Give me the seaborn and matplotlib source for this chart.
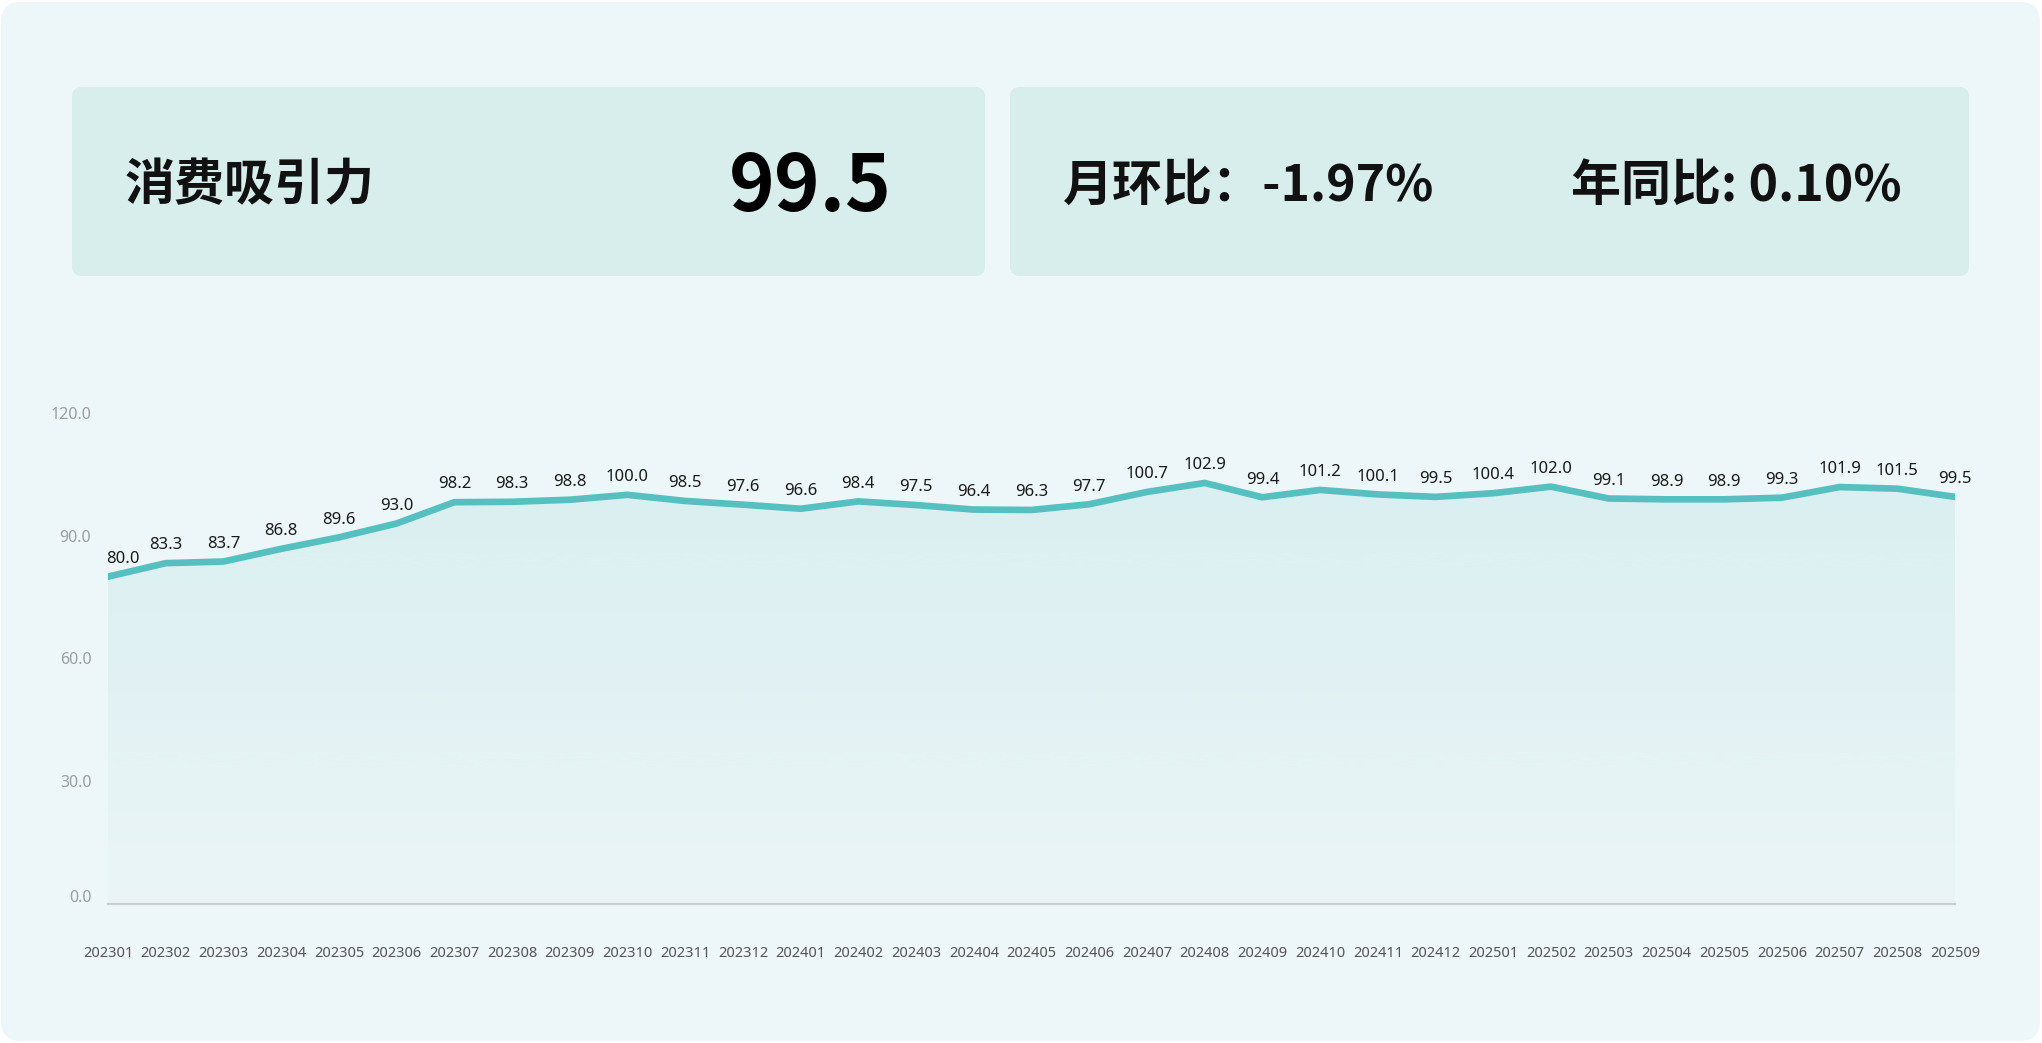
import numpy as np
import pandas as pd
import matplotlib
matplotlib.use("Agg")
import matplotlib.pyplot as plt
import seaborn as sns
from matplotlib.patches import FancyBboxPatch
from matplotlib.transforms import ScaledTranslation

# ---------------- data ----------------
months = ["202301", "202302", "202303", "202304", "202305", "202306", "202307",
          "202308", "202309", "202310", "202311", "202312", "202401", "202402",
          "202403", "202404", "202405", "202406", "202407", "202408", "202409",
          "202410", "202411", "202412", "202501", "202502", "202503", "202504",
          "202505", "202506", "202507", "202508", "202509"]
values = [80.0, 83.3, 83.7, 86.8, 89.6, 93.0, 98.2, 98.3, 98.8, 100.0, 98.5,
          97.6, 96.6, 98.4, 97.5, 96.4, 96.3, 97.7, 100.7, 102.9, 99.4, 101.2,
          100.1, 99.5, 100.4, 102.0, 99.1, 98.9, 98.9, 99.3, 101.9, 101.5, 99.5]
y_ticks = [0.0, 30.0, 60.0, 90.0, 120.0]
title_label = "消费吸引力"
title_value = "99.5"
mom_text = "月环比：-1.97%"
yoy_text = "年同比: 0.10%"

# ---------------- styling ----------------
sns.set_theme(style="white")
plt.rcParams["font.family"] = ["Noto Sans CJK SC", "DejaVu Sans"]

W, H = 2042, 1043
DPI = 100
fig = plt.figure(figsize=(W / DPI, H / DPI), dpi=DPI, facecolor="white")

def px(x, y):
    return x / W, 1 - y / H

# outer panel
outer = FancyBboxPatch((1 / DPI, 2 / DPI), (W - 3) / DPI, (H - 4) / DPI,
                       boxstyle="round,pad=0,rounding_size=0.2",
                       transform=fig.dpi_scale_trans, facecolor="#EDF6F8",
                       edgecolor="none", zorder=-2)
fig.patches.append(outer)

# cards
for (x0, x1) in [(72, 985), (1010, 1969)]:
    card = FancyBboxPatch((x0 / DPI, (H - 276) / DPI), (x1 - x0) / DPI, (276 - 87) / DPI,
                          boxstyle="round,pad=0,rounding_size=0.1",
                          transform=fig.dpi_scale_trans, facecolor="#D8EEEC",
                          edgecolor="none", zorder=-1)
    fig.patches.append(card)

fig.text(*px(125, 186), title_label, fontsize=36, color="#111111",
         ha="left", va="center", fontweight="bold")
fig.text(*px(892, 188), title_value, fontsize=56, color="#000000",
         ha="right", va="center", fontweight="bold")
fig.text(*px(1063, 186), mom_text, fontsize=36, color="#111111",
         ha="left", va="center", fontweight="bold")
fig.text(*px(1571, 186), yoy_text, fontsize=36, color="#111111",
         ha="left", va="center", fontweight="bold")

# ---------------- chart ----------------
x_left, x_right = 108, 1955
y_zero, y_top = 904, 413
ax = fig.add_axes([x_left / W, (H - y_zero) / H, (x_right - x_left) / W, (y_zero - y_top) / H])
ax.set_facecolor("none")
ax.set_zorder(2)

df = pd.DataFrame({"idx": np.arange(len(months)), "month": months, "value": values})

line_color = "#56C0C0"
sns.lineplot(data=df, x="idx", y="value", ax=ax, color=line_color, linewidth=4.8,
             solid_joinstyle="round", solid_capstyle="round", zorder=3)

# gradient fill under line
poly = ax.fill_between(df["idx"], df["value"], 0, color="none", linewidth=0)
grad = np.zeros((256, 1, 4))
rgb = matplotlib.colors.to_rgb(line_color)
grad[:, 0, :3] = rgb
grad[:, 0, 3] = np.linspace(0.13, 0.02, 256)
im = ax.imshow(grad, extent=[0, len(months) - 1, 0, 105], aspect="auto",
               origin="upper", zorder=1, interpolation="bicubic")
im.set_clip_path(poly.get_paths()[0], transform=ax.transData)

ax.set_xlim(0, len(months) - 1)
ax.set_ylim(0, 120)

for i, v in enumerate(values):
    ha = "left" if i == 0 else "center"
    dx = -1 if i == 0 else 0
    ax.annotate(f"{v:.1f}", (i, v), xytext=(dx, 7), textcoords="offset points",
                ha=ha, va="bottom", fontsize=12, color="#1a1a1a",
                family=["Noto Sans", "DejaVu Sans"], zorder=4, annotation_clip=False)

# axes styling
for s in ["left", "right", "top"]:
    ax.spines[s].set_visible(False)
ax.spines["bottom"].set_color("#C9CFD1")
ax.spines["bottom"].set_linewidth(1.6)
ax.grid(False)

ax.set_xticks(df["idx"])
ax.set_xticklabels(months, fontsize=10.5, color="#555555", family=["Noto Sans", "DejaVu Sans"])
ax.set_yticks(y_ticks)
ax.set_yticklabels([f"{t:.1f}" for t in y_ticks], fontsize=11.5, color="#9A9FA1",
                   family=["Noto Sans", "DejaVu Sans"])
ax.tick_params(axis="x", length=0, pad=30)
ax.tick_params(axis="y", length=0, pad=12)
ylabs = ax.get_yticklabels()
ylabs[0].set_transform(ylabs[0].get_transform() + ScaledTranslation(0, 6 / 72, fig.dpi_scale_trans))
ax.set_xlabel("")
ax.set_ylabel("")

fig.savefig("out.png", dpi=DPI, facecolor="white")
